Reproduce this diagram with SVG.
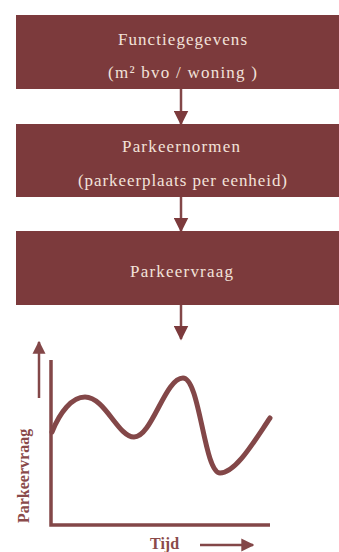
<svg xmlns="http://www.w3.org/2000/svg" width="339" height="552" viewBox="0 0 339 552">
<style>
.box{fill:#7c3a3c}
.bt{font-family:"Liberation Serif","DejaVu Serif",serif;font-size:17px;fill:#f2e2da;text-anchor:middle}
.ln{stroke:#834748;stroke-width:2.5;fill:none}
.ax{stroke:#834748;stroke-width:3.5;fill:none}
.lb{font-family:"Liberation Serif","DejaVu Serif",serif;font-size:16px;font-weight:bold;fill:#8a4a4a}
</style>
<defs>
<marker id="ah" viewBox="0 0 10 10" refX="9" refY="5" markerWidth="6" markerHeight="6" orient="auto" markerUnits="strokeWidth">
<path d="M0,0 L10,5 L0,10 Z" fill="#7c3a3c"/>
</marker>
<marker id="ah2" viewBox="0 0 10 10" refX="9" refY="5" markerWidth="5.2" markerHeight="5.6" orient="auto" markerUnits="strokeWidth">
<path d="M0,0 L10,5 L0,10 Z" fill="#834748"/>
</marker>
</defs>
<rect width="339" height="552" fill="#ffffff"/>
<g id="node-functiegegevens">
<rect class="box" x="16" y="15" width="323" height="74"/>
<text class="bt" x="182.5" y="45" textLength="129" lengthAdjust="spacing">Functiegegevens</text>
<text class="bt" x="182.5" y="78" textLength="149" lengthAdjust="spacing">(m² bvo / woning )</text>
</g>
<g id="node-parkeernormen">
<rect class="box" x="16" y="124" width="323" height="73"/>
<text class="bt" x="181" y="152" textLength="118" lengthAdjust="spacing">Parkeernormen</text>
<text class="bt" x="182.5" y="186" textLength="209" lengthAdjust="spacing">(parkeerplaats per eenheid)</text>
</g>
<g id="node-parkeervraag">
<rect class="box" x="16" y="231" width="323" height="74"/>
<text class="bt" x="181.5" y="277" textLength="103" lengthAdjust="spacing">Parkeervraag</text>
</g>
<g id="connectors">
<line class="ln" x1="181" y1="89" x2="181" y2="124" marker-end="url(#ah)"/>
<line class="ln" x1="181" y1="197" x2="181" y2="231" marker-end="url(#ah)"/>
<line class="ln" x1="181" y1="305" x2="181" y2="339" marker-end="url(#ah)"/>
</g>
<g id="chart">
<line class="ln" x1="39" y1="398" x2="39" y2="342" marker-end="url(#ah2)"/>
<polyline class="ax" points="51,360 51,525 270,525"/>
<path d="M52,432 C60,412 72,397 85,397 C105,397 118,437 134,437 C152,437 165,378 183,378 C200,378 204,473 220,473 C236,473 255,440 270,418" stroke="#834748" stroke-width="5" fill="none" stroke-linecap="round"/>
<text class="lb" transform="translate(29,523) rotate(-90)">Parkeervraag</text>
<text class="lb" x="150" y="549">Tijd</text>
<line class="ln" x1="200" y1="545" x2="253" y2="545" marker-end="url(#ah2)"/>
</g>
</svg>
